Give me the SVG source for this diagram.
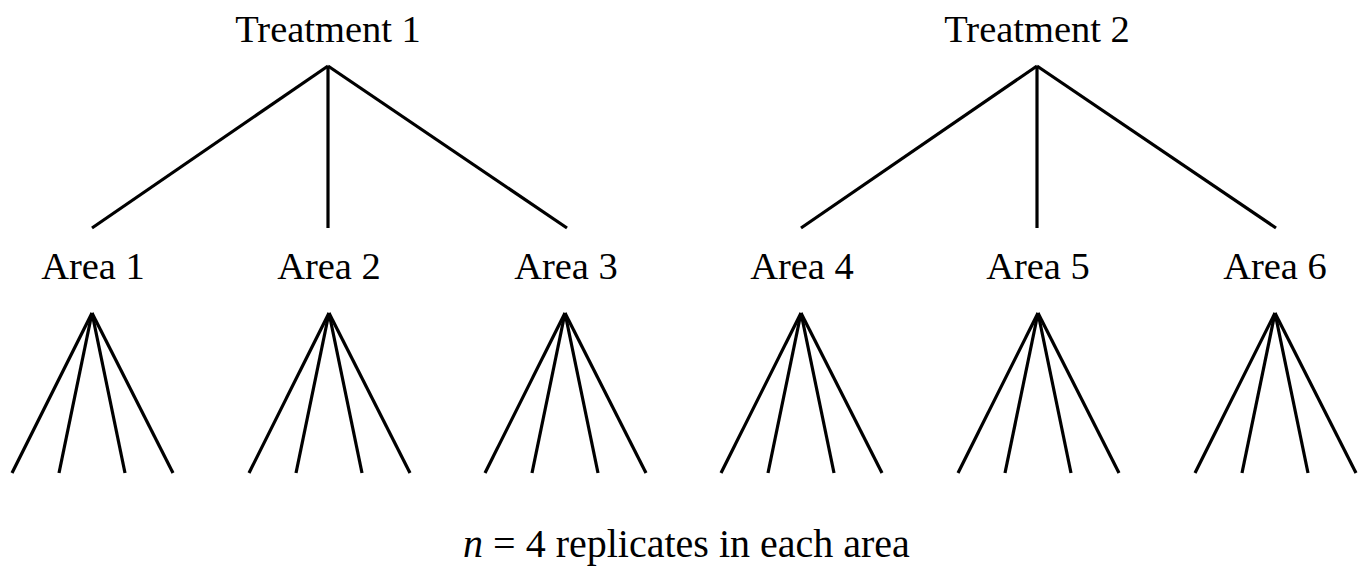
<svg xmlns="http://www.w3.org/2000/svg" width="1360" height="567" viewBox="0 0 1360 567">
<style>
text{font-family:"Liberation Serif","Times New Roman",serif;font-size:38.5px;fill:#000;text-anchor:middle}
.c line{stroke:#000;stroke-width:3.2;stroke-linecap:butt}
</style>
<rect width="1360" height="567" fill="#fff"/>
<g id="treatment1"><text x="328" y="42">Treatment 1</text></g>
<g id="treatment2"><text x="1037" y="42">Treatment 2</text></g>
<g id="area1"><text x="93" y="279">Area 1</text></g>
<g id="area2"><text x="329" y="279">Area 2</text></g>
<g id="area3"><text x="566" y="279">Area 3</text></g>
<g id="area4"><text x="802" y="279">Area 4</text></g>
<g id="area5"><text x="1038" y="279">Area 5</text></g>
<g id="area6"><text x="1275" y="279">Area 6</text></g>
<g id="note"><text x="686.5" y="557" style="font-size:40px"><tspan font-style="italic">n</tspan> = 4 replicates in each area</text></g>
<g id="connectors" class="c">
<line x1="328" y1="66" x2="92" y2="228"/>
<line x1="328" y1="66" x2="328" y2="228"/>
<line x1="328" y1="66" x2="567" y2="228"/>
<line x1="1037" y1="66" x2="801" y2="228"/>
<line x1="1037" y1="66" x2="1037" y2="228"/>
<line x1="1037" y1="66" x2="1276" y2="228"/>
<g transform="translate(92,313)"><line x1="0" y1="0" x2="-80" y2="160"/><line x1="0" y1="0" x2="-33" y2="160"/><line x1="0" y1="0" x2="33" y2="160"/><line x1="0" y1="0" x2="81" y2="160"/></g>
<g transform="translate(329,313)"><line x1="0" y1="0" x2="-80" y2="160"/><line x1="0" y1="0" x2="-33" y2="160"/><line x1="0" y1="0" x2="33" y2="160"/><line x1="0" y1="0" x2="81" y2="160"/></g>
<g transform="translate(565,313)"><line x1="0" y1="0" x2="-80" y2="160"/><line x1="0" y1="0" x2="-33" y2="160"/><line x1="0" y1="0" x2="33" y2="160"/><line x1="0" y1="0" x2="81" y2="160"/></g>
<g transform="translate(801,313)"><line x1="0" y1="0" x2="-80" y2="160"/><line x1="0" y1="0" x2="-33" y2="160"/><line x1="0" y1="0" x2="33" y2="160"/><line x1="0" y1="0" x2="81" y2="160"/></g>
<g transform="translate(1038,313)"><line x1="0" y1="0" x2="-80" y2="160"/><line x1="0" y1="0" x2="-33" y2="160"/><line x1="0" y1="0" x2="33" y2="160"/><line x1="0" y1="0" x2="81" y2="160"/></g>
<g transform="translate(1275,313)"><line x1="0" y1="0" x2="-80" y2="160"/><line x1="0" y1="0" x2="-33" y2="160"/><line x1="0" y1="0" x2="33" y2="160"/><line x1="0" y1="0" x2="81" y2="160"/></g>
</g>
</svg>
